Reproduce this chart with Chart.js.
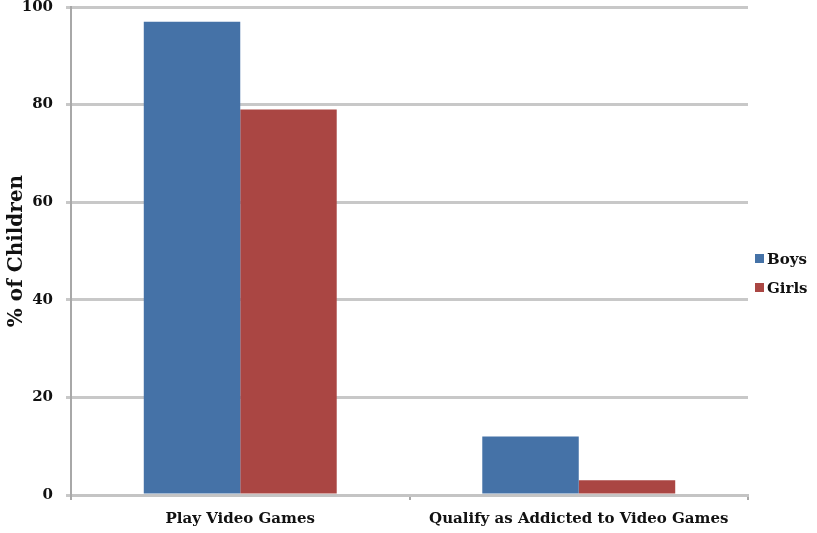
<!DOCTYPE html>
<html>
<head>
<meta charset="utf-8">
<script src="https://cdn.jsdelivr.net/npm/chart.js@4"></script>
<style>
  body { margin: 0; background: #fff; }
  #wrap { width: 817px; height: 533px; }
</style>
</head>
<body>
<div id="wrap"><canvas id="myChart" width="817" height="533"></canvas></div>
<script>
const categories = ['Play Video Games', 'Qualify as Addicted to Video Games'];
const boys = [97, 12];
const girls = [79, 3];
const yTicks = [0, 20, 40, 60, 80, 100];

const serif = 'DejaVu Serif';
const ctx = document.querySelector('#myChart');

// legend drawn by hand so it sits just right of the plot, like the original
const sideLegend = {
    id: 'sideLegend',
    afterDraw: chart => {
        const c = chart.ctx;
        const area = chart.chartArea;
        const mid = (area.top + area.bottom) / 2;
        c.save();
        c.font = 'bold 15px ' + serif;
        c.textBaseline = 'middle';
        chart.data.datasets.forEach((ds, i) => {
            const y = mid + 9 + i * 29;
            c.fillStyle = ds.backgroundColor;
            c.fillRect(area.right + 7, y - 6, 9, 9);
            c.fillStyle = '#111';
            c.fillText(ds.label, area.right + 19, y);
        });
        c.restore();
    }
};

const myChart = new Chart(ctx, {
    type: 'bar',
    data: {
        labels: categories,
        datasets: [{
            label: 'Boys',
            data: boys,
            backgroundColor: '#4572a7',
            borderWidth: 0
        },
        {
            label: 'Girls',
            data: girls,
            backgroundColor: '#aa4643',
            borderWidth: 0
        }]
    },
    options: {
        responsive: false,
        animation: false,
        categoryPercentage: 0.57,
        barPercentage: 1.0,
        layout: {
            padding: { top: 7, right: 69, bottom: 0, left: 5 }
        },
        plugins: {
            legend: { display: false },
            tooltip: { enabled: false }
        },
        scales: {
            x: {
                afterFit: axis => { axis.height = 38; },
                grid: {
                    offset: true,
                    drawOnChartArea: false,
                    drawTicks: true,
                    tickLength: 5,
                    color: '#a8a8a8',
                    lineWidth: 2
                },
                border: { color: '#c4c4c4', width: 3 },
                ticks: {
                    color: '#111',
                    padding: 10,
                    font: { family: serif, size: 15, weight: 'bold' }
                }
            },
            y: {
                min: 0,
                max: 100,
                afterFit: axis => {
                    axis.width = 66;
                    axis.paddingTop = 0;
                    axis.paddingBottom = 0;
                },
                afterBuildTicks: axis => {
                    axis.ticks = yTicks.map(v => ({ value: v }));
                },
                grid: {
                    color: '#c8c8c8',
                    lineWidth: 3,
                    tickLength: 5
                },
                border: { color: '#a8a8a8', width: 2 },
                ticks: {
                    color: '#111',
                    padding: 13,
                    font: { family: serif, size: 15, weight: 'bold' }
                },
                title: {
                    display: true,
                    text: '% of Children',
                    color: '#111',
                    padding: { top: 0, bottom: 0 },
                    font: { family: serif, size: 20, weight: 'bold' }
                }
            }
        }
    },
    plugins: [sideLegend]
});
</script>
</body>
</html>
